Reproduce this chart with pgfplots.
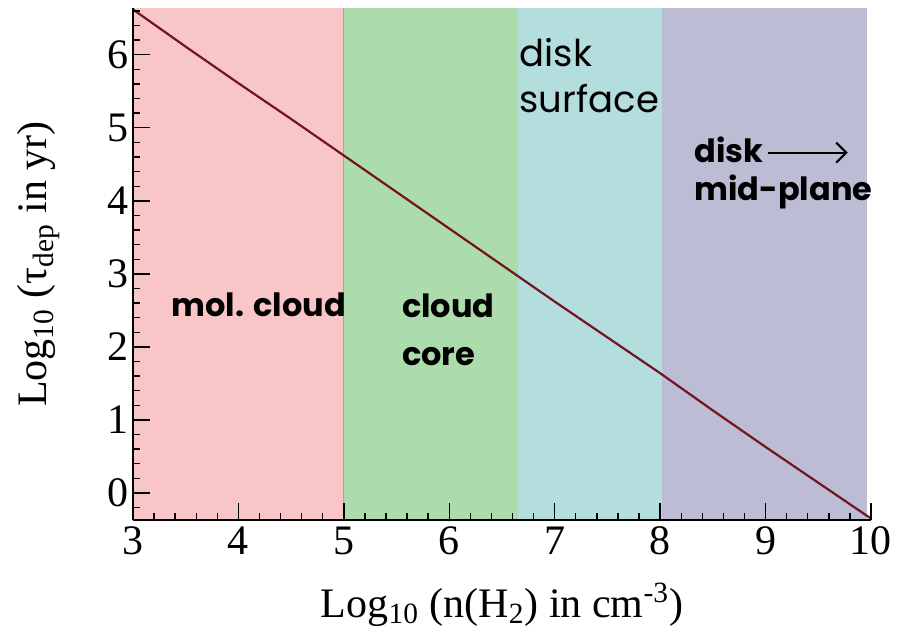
\documentclass[border=0pt]{standalone}
\usepackage{fontspec}
\setmainfont{Liberation Serif}
\newfontfamily\annot{Poppins}
\usepackage{pgfplots}
\pgfplotsset{compat=1.18}
\usetikzlibrary{arrows.meta}
\definecolor{rpink}{RGB}{248,198,198}
\definecolor{rgreen}{RGB}{172,219,172}
\definecolor{rcyan}{RGB}{180,222,222}
\definecolor{rpurple}{RGB}{188,188,212}
\definecolor{rline}{RGB}{115,20,35}
\begin{document}
\begin{tikzpicture}
\useasboundingbox (0,0) rectangle (452.5pt,318pt);
\begin{axis}[
  at={(66.5pt,58pt)}, anchor=south west,
  scale only axis, width=369pt, height=256pt,
  xmin=3, xmax=10, ymin=-0.37, ymax=6.64,
  axis lines*=left,
  axis line style={line width=1pt},
  axis on top,
  tick align=inside,
  xtick={3,...,10}, ytick={0,...,6},
  minor xtick={3.2,3.4,...,9.9},
  minor ytick={-0.2,0.2,0.4,...,6.6},
  major tick length=8.5pt, minor tick length=3.5pt,
  every tick/.style={black, line width=0.7pt},
  ticklabel style={font=\fontsize{21}{25}\selectfont},
  yticklabel style={inner sep=2pt},
  /pgf/number format/assume math mode=true,
  xlabel={Log\textsubscript{10} (n(H\textsubscript{2}) in cm\textsuperscript{-3})},
  ylabel={Log\textsubscript{10} (τ\textsubscript{dep} in yr)},
  label style={font=\fontsize{21}{25}\selectfont},
  xlabel style={at={(axis description cs:0.5,-0.166)}, anchor=center},
  ylabel style={at={(axis description cs:-0.128,0.5)}, anchor=center},
]
\addplot[fill=rpink, draw=none] coordinates {(3,-0.37) (3,6.64) (5,6.64) (5,-0.37)} -- cycle;
\addplot[fill=rgreen, draw=none] coordinates {(5,-0.37) (5,6.64) (6.65,6.64) (6.65,-0.37)} -- cycle;
\addplot[fill=rcyan, draw=none] coordinates {(6.65,-0.37) (6.65,6.64) (8.02,6.64) (8.02,-0.37)} -- cycle;
\addplot[fill=rpurple, draw=none] coordinates {(8.02,-0.37) (8.02,6.64) (9.96,6.64) (9.96,-0.37)} -- cycle;
\addplot[draw=black!35, line width=0.6pt] coordinates {(5,-0.37) (5,6.64)};
\addplot[rline, line width=1.1pt] coordinates {
 (3,6.62) (3.5,6.11) (4,5.61) (4.5,5.12) (5,4.62) (5.5,4.12) (6,3.62) (6.65,2.97)
 (7,2.62) (7.5,2.13) (8,1.64) (8.5,1.13) (9,0.63) (9.5,0.14) (10,-0.35)};
\node[anchor=base west, font=\annot\bfseries\fontsize{16}{19}\selectfont] at (axis cs:3.30,2.41) {mol. cloud};
\node[anchor=base west, font=\annot\bfseries\fontsize{16}{19}\selectfont] at (axis cs:5.485,2.40) {cloud};
\node[anchor=base west, font=\annot\bfseries\fontsize{16}{19}\selectfont] at (axis cs:5.485,1.75) {core};
\node[anchor=base west, font=\annot\fontsize{18.5}{22}\selectfont] at (axis cs:6.60,5.84) {disk};
\node[anchor=base west, font=\annot\fontsize{18.5}{22}\selectfont] at (axis cs:6.60,5.21) {surface};
\node[anchor=base west, font=\annot\bfseries\fontsize{16}{19}\selectfont] at (axis cs:8.26,4.52) {disk};
\node[anchor=base west, font=\annot\bfseries\fontsize{16}{19}\selectfont] at (axis cs:8.26,4.01) {mid-plane};
\draw[line width=1.1pt, -{Straight Barb[length=5pt,width=10pt]}] (axis cs:9.02,4.66) -- (axis cs:9.78,4.66);
\end{axis}
\end{tikzpicture}
\end{document}
